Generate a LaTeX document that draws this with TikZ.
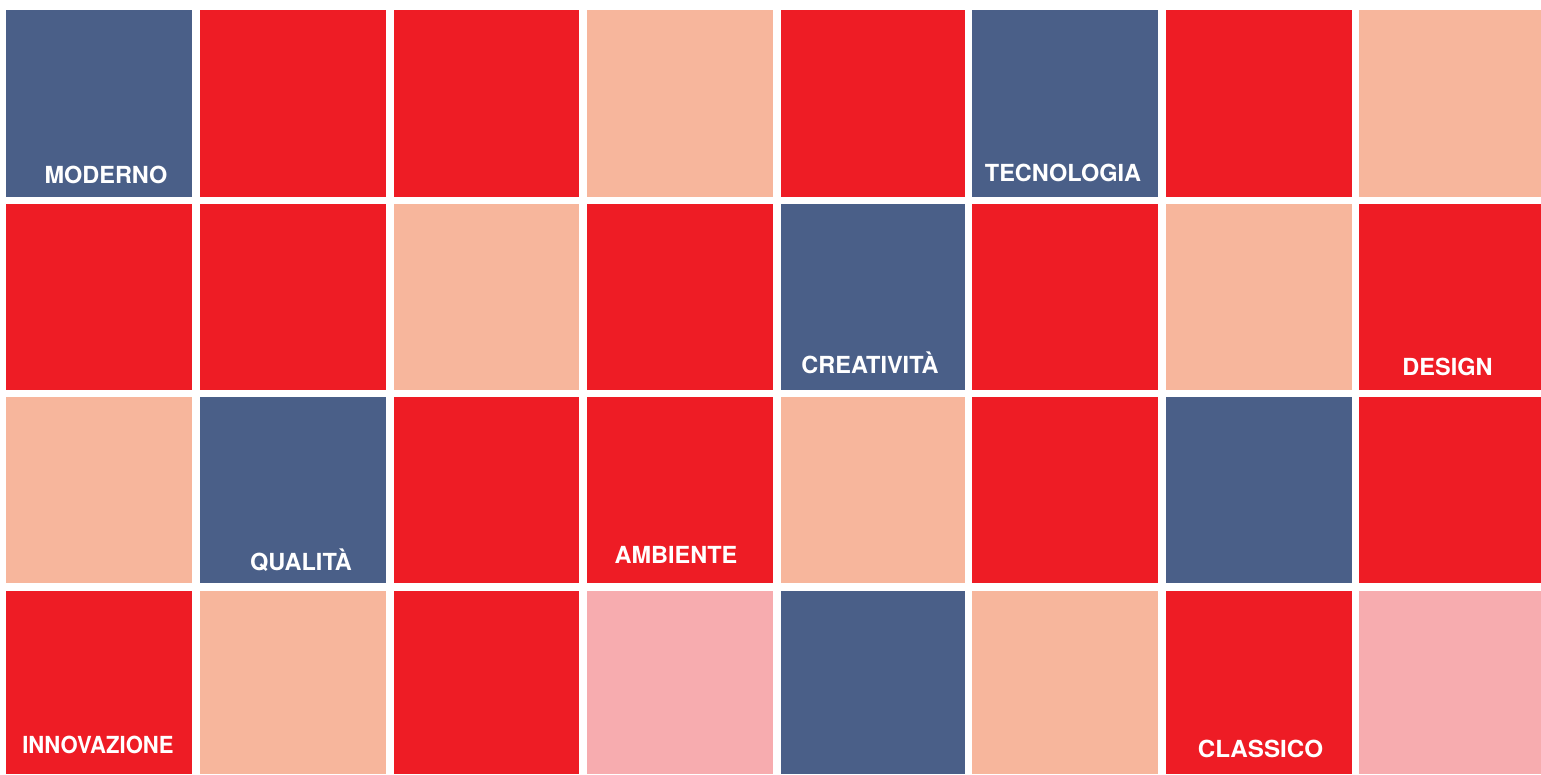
\documentclass[tikz,border=0pt]{standalone}
\usepackage{fontspec}
\setmainfont{TeX Gyre Heros}
\definecolor{colB}{HTML}{4A5F88}
\definecolor{colR}{HTML}{EE1C25}
\definecolor{colP}{HTML}{F7B69C}
\definecolor{colK}{HTML}{F7ACAF}
\tikzset{
  cell/.style={rectangle, inner sep=0pt, outer sep=0pt, draw=none, anchor=north west},
  lbl/.style={text=white, font=\bfseries\fontsize{23.5}{28}\selectfont, inner sep=0pt, anchor=base}
}
\begin{document}
\begin{tikzpicture}[x=1pt,y=-1pt]
\useasboundingbox[fill=white] (0,0) rectangle (1541,774);
\def\xs{{6,200,394,587,781,972,1166,1359}}
\def\xe{{192,386,579,773,965,1158,1352,1541}}
\def\ys{{10,204,397,591}}
\def\ye{{197,390,583,774}}
\foreach \r/\row in {0/{B,R,R,P,R,B,R,P},1/{R,R,P,R,B,R,P,R},2/{P,B,R,R,P,R,B,R},3/{R,P,R,K,B,P,R,K}}{
  \foreach \c [count=\i from 0] in \row {
    \pgfmathsetmacro\xa{\xs[\i]}
    \pgfmathsetmacro\xb{\xe[\i]}
    \pgfmathsetmacro\ya{\ys[\r]}
    \pgfmathsetmacro\yb{\ye[\r]}
    \pgfmathsetmacro\w{\xb-\xa}
    \pgfmathsetmacro\h{\yb-\ya}
    \node[cell, fill=col\c, minimum width=\w pt, minimum height=\h pt] (cell-\r-\i) at (\xa,\ya) {};
  }
}
\node[lbl] (moderno) at (106,183) {MODERNO};
\node[lbl] (tecnologia) at (1063,181) {TECNOLOGIA};
\node[lbl] (creativita) at (870,373) {CREATIVITÀ};
\node[lbl] (design) at (1447.5,375) {DESIGN};
\node[lbl] (qualita) at (301,570) {QUALITÀ};
\node[lbl] (ambiente) at (676,563) {AMBIENTE};
\node[lbl, xscale=0.94] (innovazione) at (98,753) {INNOVAZIONE};
\node[lbl, xscale=1.03] (classico) at (1260.5,757) {CLASSICO};
\end{tikzpicture}
\end{document}
